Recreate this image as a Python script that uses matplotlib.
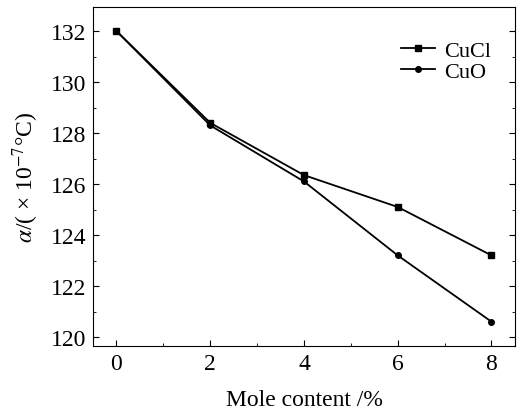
import matplotlib.pyplot as plt
from matplotlib.ticker import MultipleLocator

plt.rcParams['font.family'] = 'Liberation Serif'
plt.rcParams['mathtext.fontset'] = 'stix'

mole = [0, 2, 4, 6, 8]
cucl = [132.0, 128.4, 126.35, 125.1, 123.2]
cuo = [132.0, 128.3, 126.1, 123.2, 120.6]

fig = plt.figure(figsize=(5.17, 4.14), dpi=100)
ax = fig.add_axes([0.18, 0.162, 0.816, 0.819])

ax.plot(mole, cucl, color='black', lw=1.3, marker='s', ms=4, label='CuCl')
ax.plot(mole, cuo, color='black', lw=1.3, marker='o', ms=4, label='CuO')

ax.set_xlim(-0.5, 8.5)
ax.set_ylim(119.65, 132.95)
ax.xaxis.set_major_locator(MultipleLocator(2))
ax.xaxis.set_minor_locator(MultipleLocator(1))
ax.yaxis.set_major_locator(MultipleLocator(2))
ax.yaxis.set_minor_locator(MultipleLocator(1))
ax.tick_params(which='both', direction='in', right=True, top=False, labelsize=17)
ax.tick_params(which='major', length=4, pad=5)
ax.tick_params(which='minor', length=2.5)

ax.set_xlabel('Mole content /%', fontsize=17, labelpad=11)
ax.set_ylabel(r'$\alpha$/( × 10$^{-7}$°C)', fontsize=17, labelpad=7)

ax.legend(loc='upper right', bbox_to_anchor=(0.99, 0.96), frameon=False,
          fontsize=16, handlelength=1.5, handletextpad=0.4, labelspacing=0.0)

fig.savefig('out.png', dpi=100)
